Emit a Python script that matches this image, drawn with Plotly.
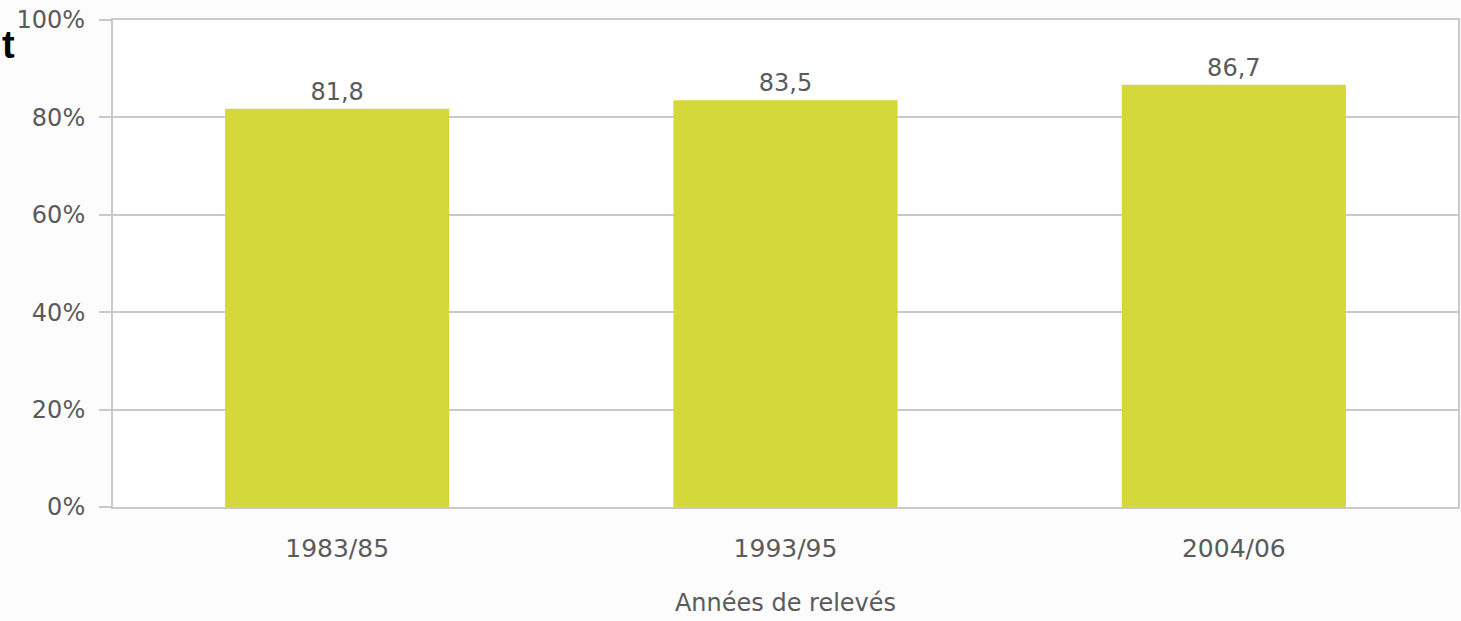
import plotly.graph_objects as go

categories = ["1983/85", "1993/95", "2004/06"]
values = [81.8, 83.5, 86.7]
y_ticks = [0, 20, 40, 60, 80, 100]
y_tick_labels = ["0%", "20%", "40%", "60%", "80%", "100%"]
x_title = "Années de relevés"

grid = "#c9c9c9"
txt = "#5a5a5a"
fam = "DejaVu Sans"

fig = go.Figure(go.Bar(
    x=categories, y=values,
    marker=dict(color="#d4d83b", line=dict(width=0)),
    width=0.5,
    text=[f"{v:.1f}".replace(".", ",") for v in values],
    textposition="outside",
    textfont=dict(family=fam, size=24, color=txt),
    cliponaxis=False,
))

fig.update_layout(
    width=1461, height=621,
    margin=dict(l=113, r=1, t=20, b=114),
    paper_bgcolor="#fcfcfc",
    plot_bgcolor="#ffffff",
    showlegend=False,
    font=dict(family=fam, size=24, color=txt),
    xaxis=dict(
        showline=True, linecolor=grid, linewidth=2, mirror=True,
        ticks="", showgrid=False,
        tickfont=dict(family=fam, size=25, color=txt),
        ticklabelstandoff=18,
        title=dict(text=x_title, font=dict(family=fam, size=24, color=txt), standoff=32),
    ),
    yaxis=dict(
        range=[0, 100], tickvals=y_ticks, ticktext=y_tick_labels,
        showgrid=True, gridcolor=grid, gridwidth=2,
        showline=True, linecolor=grid, linewidth=2, mirror=True,
        ticks="outside", ticklen=12, tickcolor=grid, tickwidth=2,
        tickfont=dict(family=fam, size=24, color=txt),
        ticklabelstandoff=9,
        zeroline=False,
    ),
    annotations=[dict(
        text="<b>t</b>", xref="paper", yref="paper", x=0, y=1,
        xshift=-113, yshift=-2, xanchor="left", yanchor="top",
        showarrow=False, font=dict(family="Liberation Sans", size=38, color="#000000"),
    )],
)

fig.write_html("out.html")
